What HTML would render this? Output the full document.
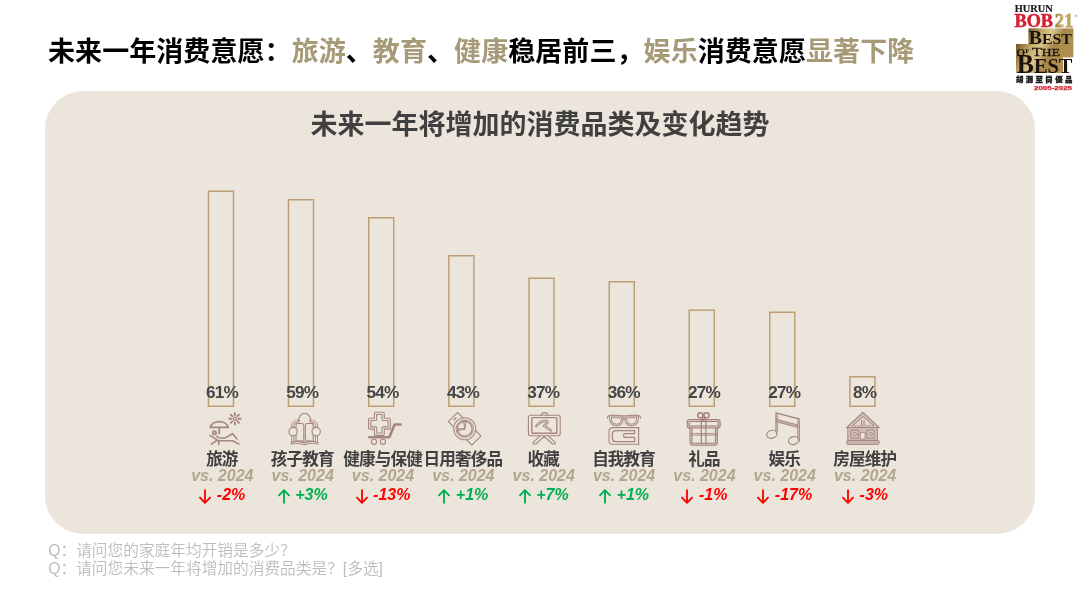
<!DOCTYPE html>
<html lang="zh-CN">
<head>
<meta charset="utf-8">
<title>未来一年消费意愿</title>
<style>
html,body{margin:0;padding:0;background:#fff;}
body{width:1080px;height:608px;position:relative;overflow:hidden;font-family:"Liberation Sans","Noto Sans CJK SC",sans-serif;}
.abs{position:absolute;}
#title{left:48px;top:32px;font-size:27px;font-weight:bold;color:#000;white-space:nowrap;line-height:40px;letter-spacing:0.07px;}
#title .g{color:#A69A78;}
#panel{left:45px;top:91px;width:990px;height:443px;border-radius:38px;background:#ECE5DB;}
#ctitle{left:0;width:1080px;top:105px;text-align:center;font-size:27px;font-weight:bold;color:#404040;line-height:40px;white-space:nowrap;}
.pct{width:60px;text-align:center;font-size:17.2px;font-weight:bold;letter-spacing:-0.8px;text-indent:-0.8px;color:#454545;line-height:20px;margin-top:-1.6px;}
.cat{width:90px;text-align:center;font-size:16.6px;font-weight:bold;color:#404040;line-height:20px;letter-spacing:-0.85px;text-indent:-0.85px;white-space:nowrap;}
.vs{width:90px;text-align:center;font-size:16px;font-weight:bold;font-style:italic;color:#B2A690;line-height:20px;white-space:nowrap;}
.chg{width:90px;text-align:center;font-size:16px;font-style:italic;font-weight:bold;line-height:20px;white-space:nowrap;}
.chg svg{display:inline-block;vertical-align:top;margin:3.6px 5.5px 0 0;}
.up{color:#00B050;}
.dn{color:#FF0000;}
#q{left:48.3px;top:542px;font-size:15.7px;font-weight:350;color:#BDBDBD;line-height:18.4px;white-space:nowrap;}
</style>
</head>
<body>
<div id="title" class="abs">未来一年消费意愿：<span class="g">旅游</span>、<span class="g">教育</span>、<span class="g">健康</span>稳居前三，<span class="g">娱乐</span>消费意愿<span class="g">显著下降</span></div>

<!-- logo -->
<svg class="abs" style="left:1005px;top:0" width="75" height="95" viewBox="0 0 75 95">
  <defs>
    <linearGradient id="gold" x1="0" y1="0" x2="1" y2="0.3">
      <stop offset="0" stop-color="#6f5324"/>
      <stop offset="0.3" stop-color="#c3a867"/>
      <stop offset="0.5" stop-color="#dcc78f"/>
      <stop offset="0.75" stop-color="#a6884a"/>
      <stop offset="1" stop-color="#b09050"/>
    </linearGradient>
    <linearGradient id="gold2" x1="0" y1="0" x2="1" y2="0">
      <stop offset="0" stop-color="#9c7c3a"/>
      <stop offset="0.5" stop-color="#d8c27f"/>
      <stop offset="1" stop-color="#a88a45"/>
    </linearGradient>
  </defs>
  <text x="9.7" y="12" font-family="Liberation Serif,serif" font-weight="bold" font-size="9.6" fill="#1a1a1a" stroke="#1a1a1a" stroke-width="0.2" textLength="38" lengthAdjust="spacingAndGlyphs">HURUN</text>
  <text x="9.5" y="27" font-family="Liberation Serif,serif" font-weight="bold" font-size="18" fill="#D42030" stroke="#D42030" stroke-width="0.5" textLength="38.5" lengthAdjust="spacingAndGlyphs">BOB</text>
  <text x="50" y="27" font-family="Liberation Serif,serif" font-weight="bold" font-size="18" fill="url(#gold2)" stroke="url(#gold2)" stroke-width="0.9" textLength="18" lengthAdjust="spacingAndGlyphs">21</text>
  <text x="69.5" y="17" font-family="Liberation Serif,serif" font-weight="bold" font-size="4" fill="#b89a52">st</text>
  <rect x="23.4" y="28.4" width="45" height="29" fill="url(#gold)"/>
  <rect x="11" y="44" width="47" height="29" fill="url(#gold)"/>
  <text x="23.8" y="43.6" font-family="Liberation Serif,serif" font-weight="bold" font-size="19.5" fill="#1c120c" textLength="43" lengthAdjust="spacingAndGlyphs">B<tspan font-size="15.5">EST</tspan></text>
  <text x="11.5" y="55.8" font-family="Liberation Serif,serif" font-weight="bold" font-size="11" fill="#1c120c" textLength="13" lengthAdjust="spacingAndGlyphs">O<tspan font-size="7" dy="-2.5">F</tspan></text>
  <text x="27" y="55.8" font-family="Liberation Serif,serif" font-size="12.5" fill="#1c120c" stroke="#1c120c" stroke-width="0.3" textLength="28" lengthAdjust="spacingAndGlyphs">T<tspan font-size="10.5">HE</tspan></text>
  <text x="11.8" y="72.6" font-family="Liberation Serif,serif" font-weight="bold" font-size="27" fill="#1c120c" textLength="55.6" lengthAdjust="spacingAndGlyphs">B<tspan font-size="21.5">EST</tspan></text>
  <text x="10.9" y="82.2" font-family="Noto Sans CJK TC,sans-serif" font-weight="900" font-size="7.4" fill="#1a1a1a" stroke="#1a1a1a" stroke-width="0.35" textLength="56.5" lengthAdjust="spacing">胡潤至尚優品</text>
  <text x="29" y="89.5" font-family="Liberation Sans,sans-serif" font-weight="bold" font-size="5.8" fill="#D42030" stroke="#D42030" stroke-width="0.25" textLength="38" lengthAdjust="spacingAndGlyphs">2005-2025</text>
</svg>

<div id="panel" class="abs"></div>
<div id="ctitle" class="abs">未来一年将增加的消费品类及变化趋势</div>

<svg class="abs" style="left:0;top:0" width="1080" height="608" viewBox="0 0 1080 608">
  <g fill="none" stroke="#BCA073" stroke-width="1.5">
    <rect x="208.5" y="191.25" width="25" height="215"/>
    <rect x="288.5" y="199.75" width="25" height="206.5"/>
    <rect x="368.75" y="217.75" width="25" height="188.5"/>
    <rect x="448.85" y="255.75" width="25" height="150.5"/>
    <rect x="529" y="278.25" width="25" height="128"/>
    <rect x="609.25" y="281.75" width="25" height="124.5"/>
    <rect x="689.25" y="310.15" width="25" height="96.1"/>
    <rect x="769.75" y="312.25" width="25" height="94"/>
    <rect x="849.95" y="376.75" width="25" height="29.5"/>
  </g>
  <g id="icons" fill="none" stroke="#A5867F" stroke-width="1.1" stroke-linecap="round" stroke-linejoin="round">
    <!-- 1 travel -->
    <g>
      <circle cx="234.9" cy="418.75" r="1.7" stroke-width="1.3"/>
      <g stroke-width="1.8" transform="translate(234.9 418.75)">
        <path d="M0 -3.6V-5.8M0 3.6V5.8M-3.6 0H-5.8M3.6 0H5.8M2.55 2.55L4.1 4.1M-2.55 -2.55L-4.1 -4.1M2.55 -2.55L4.1 -4.1M-2.55 2.55L-4.1 4.1"/>
      </g>
      <path d="M210.2 427.4A9.2 7.4 0 0 1 228.2 427.4Z" stroke-width="1.7"/>
      <path d="M219.2 428V433.6" stroke-width="1.8"/>
      <circle cx="214.4" cy="432.8" r="1.9" fill="#C4AEA8" stroke-width="1.3"/>
      <path d="M210 435.4L217.6 440.1" stroke-width="1.6"/>
      <path d="M216.6 436.3Q221.5 439.6 226.2 437.4L232.6 433.7L237.1 439" stroke-width="1.6"/>
      <path d="M217.6 440.7H232.6L238.9 444.1" stroke-width="1.6"/>
      <path d="M211.4 444.2L216.4 440.6M218.8 441V444.3" stroke-width="1.6"/>
    </g>
    <!-- 2 child education -->
    <g>
      <path d="M298.4 420.9C294.6 421.3 292.8 422.6 292.8 426.3V442.6M310.8 420.9C314.6 421.3 316.4 422.6 316.4 426.3V442.6" stroke-width="3.0"/>
      <path d="M298.4 420.9C294.6 421.3 292.8 422.6 292.8 426.3V442.6M310.8 420.9C314.6 421.3 316.4 422.6 316.4 426.3V442.6" stroke="#ECE5DB" stroke-width="1.2"/>
      <path d="M298.4 420.9A6.2 7.6 0 0 1 310.8 420.9"/>
      <path d="M303.8 441.2V425.3Q303.8 423.5 302 423.5H297.8Q296 423.5 296 425.3V441.4Q299.9 440.2 303.8 441.2Z"/>
      <path d="M305.4 441.2V425.3Q305.4 423.5 307.2 423.5H311.4Q313.2 423.5 313.2 425.3V441.4Q309.3 440.2 305.4 441.2Z"/>
      <path d="M292 443.2Q298.3 440.9 304.6 443.9Q310.9 440.9 317.2 443.2" stroke-width="3"/>
      <path d="M292 443.2Q298.3 440.9 304.6 443.9Q310.9 440.9 317.2 443.2" stroke="#ECE5DB" stroke-width="0.9"/>
      <circle cx="293.1" cy="431.6" r="4.2" fill="#ECE5DB"/>
      <circle cx="316.2" cy="431.6" r="4.2" fill="#ECE5DB"/>
    </g>
    <!-- 3 health -->
    <g>
      <path d="M375.6 413.4H383.1V419.4H389.2V428H383.1V434.2H375.6V428H369.7V419.4H375.6Z" stroke-width="3.4"/>
      <path d="M375.6 413.4H383.1V419.4H389.2V428H383.1V434.2H375.6V428H369.7V419.4H375.6Z" stroke="#ECE5DB" stroke-width="1.2"/>
      <path d="M369.4 437.3H389.3L394.6 424.5H400.6" stroke-width="2.6"/>
      <circle cx="374" cy="441.8" r="2.6"/>
      <circle cx="382.9" cy="441.8" r="2.6"/>
    </g>
    <!-- 4 watch -->
    <g transform="translate(464.7 428.75) rotate(45)">
      <path d="M-16.6 -6.4H16.6V6.4H-16.6Z"/>
      <path d="M-13.9 -1.2V1.2" stroke-width="1.6"/>
      <circle r="11" fill="#ECE5DB" stroke-width="1"/>
      <circle r="8.7" stroke-width="0.9"/>
      <circle r="7.4" stroke-width="1.1"/>
    </g>
    <path d="M464.7 428.9L463.6 421L465.6 421Z M464.7 428.9L457.8 428.6L458 430.4Z" stroke-width="1"/>
    <!-- 5 easel -->
    <g>
      <path d="M541 415.2A3.7 3.3 0 0 1 548.2 415.2"/>
      <rect x="528.4" y="415.2" width="31.8" height="20.6" rx="2.4"/>
      <rect x="531.8" y="417.6" width="25" height="15.7" rx="0.8" stroke-width="1.4"/>
      <path d="M536.3 426Q541 420.4 546.6 421Q548.8 421.8 546.2 423.8L543.9 425.9Q546.6 427 551.2 430.6" stroke-width="2.4"/>
      <path d="M536.3 426Q541 420.4 546.6 421Q548.8 421.8 546.2 423.8L543.9 425.9Q546.6 427 551.2 430.6" stroke="#ECE5DB" stroke-width="0.7"/>
      <path d="M539.6 436.3L533.2 442.4Q532.4 444 534.4 444H535.8L544.2 436.3L552.6 444H554Q556 444 555.2 442.4L548.8 436.3"/>
    </g>
    <!-- 6 self education -->
    <g>
      <path d="M607.5 418.3Q607.2 415.6 611 415.3L618 415.2Q624.3 416.7 630 415.2L637 415.3Q640.8 415.6 640.5 418.3"/>
      <path d="M610.4 416.9H622Q623 424.9 616.6 425Q610 425 610.4 416.9ZM626 416.9H637.6Q638 425 631.4 425Q625 424.9 626 416.9Z" stroke-width="2.7"/>
      <path d="M610.4 416.9H622Q623 424.9 616.6 425Q610 425 610.4 416.9ZM626 416.9H637.6Q638 425 631.4 425Q625 424.9 626 416.9Z" stroke="#ECE5DB" stroke-width="0.8"/>
      <path d="M622.2 417.2Q624.1 421.5 626 417.2"/>
      <path d="M638.6 427.6H613Q609 427.6 609 431.6V440.4Q609 444.3 613 444.3H638.6"/>
      <path d="M634.6 430.6H615.6Q612.4 430.6 612.4 433.6V438.6Q612.4 441.6 615.6 441.6H634.6V437.4H624.6Q623.6 437.4 623.6 435.5Q623.6 433.6 624.6 433.6H634.6Z" stroke-width="1.3"/>
      <path d="M638.6 427.6V444.3" stroke-width="1.2"/>
    </g>
    <!-- 7 gift -->
    <g stroke="#9C7C75">
      <path d="M691 427V442.6Q691 444.2 692.6 444.2H714.8Q716.4 444.2 716.4 442.6V427" stroke-width="3"/>
      <path d="M691 427V442.6Q691 444.2 692.6 444.2H714.8Q716.4 444.2 716.4 442.6V427" stroke="#ECE5DB" stroke-width="0.8"/>
      <path d="M691.6 434.4H715.8" stroke-width="2.4"/>
      <path d="M692.2 434.4H715.2" stroke="#ECE5DB" stroke-width="0.7"/>
      <rect x="688.2" y="420.5" width="31" height="6.5" rx="1.6" fill="#ECE5DB" stroke-width="3"/>
      <rect x="688.2" y="420.5" width="31" height="6.5" rx="1.6" stroke="#ECE5DB" stroke-width="0.8"/>
      <path d="M701.3 419.6V443.8M705.9 419.6V443.8" stroke-width="1.1"/>
      <circle cx="700.3" cy="415.3" r="2.6" stroke-width="1.4"/>
      <circle cx="706.5" cy="415.3" r="2.6" stroke-width="1.4"/>
      <circle cx="703.4" cy="419" r="1.2" stroke-width="1.1"/>
    </g>
    <!-- 8 music -->
    <g>
      <path d="M776 432.6V412.8L799.2 419V441" stroke-width="1.3"/>
      <path d="M777.6 414.6V432M797.6 420.6V440" stroke-width="0.8"/>
      <path d="M776.6 419.4L797.8 425V427.4L776.6 421.8Z" fill="#C8B3AC" stroke-width="1"/>
      <ellipse cx="771.8" cy="434.3" rx="5.1" ry="3.9" transform="rotate(-14 771.8 434.3)" fill="#ECE5DB" stroke-width="1.2"/>
      <ellipse cx="793.6" cy="440.6" rx="5.1" ry="3.9" transform="rotate(-14 793.6 440.6)" fill="#ECE5DB" stroke-width="1.2"/>
    </g>
    <!-- 9 house -->
    <g>
      <path d="M862.9 412.4L846.6 427.6H879.2Z" fill="#D0BDB6" stroke-width="1.2"/>
      <path d="M862.9 416.8L852.2 426H873.6Z" fill="#E3D8D0" stroke-width="1"/>
      <rect x="848.2" y="427.6" width="29.2" height="12.8" fill="#D0BDB6" stroke-width="1"/>
      <rect x="846.6" y="440.4" width="32.6" height="4" rx="1.6" fill="#C9B4AD" stroke-width="1"/>
      <rect x="851.4" y="430.2" width="7" height="7.8" fill="#D6C6BE" stroke-width="1"/>
      <rect x="867.2" y="430.2" width="7" height="7.8" fill="#D6C6BE" stroke-width="1"/>
      <rect x="860.8" y="432.6" width="4.2" height="6.4" fill="#EDE5DC" stroke-width="0.8"/>
      <circle cx="854.9" cy="434.1" r="1.7" stroke-width="0.8"/>
      <circle cx="870.7" cy="434.1" r="1.7" stroke-width="0.8"/>
      <path d="M849.4 426.4H876.4" stroke="#EDE5DC" stroke-width="0.6" stroke-dasharray="1.5 2"/>
      <path d="M861.6 420.6V424.6M864 420.6V424.6" stroke-width="1.2"/>
    </g>
  </g>
</svg>

<div class="abs pct" style="left:192.30px;top:383.5px">61%</div>
<div class="abs pct" style="left:272.65px;top:383.5px">59%</div>
<div class="abs pct" style="left:353.00px;top:383.5px">54%</div>
<div class="abs pct" style="left:433.35px;top:383.5px">43%</div>
<div class="abs pct" style="left:513.70px;top:383.5px">37%</div>
<div class="abs pct" style="left:594.05px;top:383.5px">36%</div>
<div class="abs pct" style="left:674.40px;top:383.5px">27%</div>
<div class="abs pct" style="left:754.75px;top:383.5px">27%</div>
<div class="abs pct" style="left:835.10px;top:383.5px">8%</div>

<div class="abs cat" style="left:177.30px;top:449.5px">旅游</div>
<div class="abs cat" style="left:257.65px;top:449.5px">孩子教育</div>
<div class="abs cat" style="left:338.00px;top:449.5px">健康与保健</div>
<div class="abs cat" style="left:418.35px;top:449.5px">日用奢侈品</div>
<div class="abs cat" style="left:498.70px;top:449.5px">收藏</div>
<div class="abs cat" style="left:579.05px;top:449.5px">自我教育</div>
<div class="abs cat" style="left:659.40px;top:449.5px">礼品</div>
<div class="abs cat" style="left:739.75px;top:449.5px">娱乐</div>
<div class="abs cat" style="left:820.10px;top:449.5px">房屋维护</div>

<div class="abs vs" style="left:177.30px;top:466px">vs. 2024</div>
<div class="abs vs" style="left:257.65px;top:466px">vs. 2024</div>
<div class="abs vs" style="left:338.00px;top:466px">vs. 2024</div>
<div class="abs vs" style="left:418.35px;top:466px">vs. 2024</div>
<div class="abs vs" style="left:498.70px;top:466px">vs. 2024</div>
<div class="abs vs" style="left:579.05px;top:466px">vs. 2024</div>
<div class="abs vs" style="left:659.40px;top:466px">vs. 2024</div>
<div class="abs vs" style="left:739.75px;top:466px">vs. 2024</div>
<div class="abs vs" style="left:820.10px;top:466px">vs. 2024</div>

<div class="abs chg dn" style="left:177.30px;top:485px"><svg width="12" height="15" viewBox="0 0 12 15"><path d="M6 1.2V13.6M1 8.6L6 13.8L11 8.6" fill="none" stroke="#FF0000" stroke-width="1.85" stroke-linecap="round" stroke-linejoin="round"/></svg>-2%</div>
<div class="abs chg up" style="left:257.65px;top:485px"><svg width="12" height="15" viewBox="0 0 12 15"><path d="M6 13.8V1.4M1 6.4L6 1.2L11 6.4" fill="none" stroke="#00B050" stroke-width="1.85" stroke-linecap="round" stroke-linejoin="round"/></svg>+3%</div>
<div class="abs chg dn" style="left:338.00px;top:485px"><svg width="12" height="15" viewBox="0 0 12 15"><path d="M6 1.2V13.6M1 8.6L6 13.8L11 8.6" fill="none" stroke="#FF0000" stroke-width="1.85" stroke-linecap="round" stroke-linejoin="round"/></svg>-13%</div>
<div class="abs chg up" style="left:418.35px;top:485px"><svg width="12" height="15" viewBox="0 0 12 15"><path d="M6 13.8V1.4M1 6.4L6 1.2L11 6.4" fill="none" stroke="#00B050" stroke-width="1.85" stroke-linecap="round" stroke-linejoin="round"/></svg>+1%</div>
<div class="abs chg up" style="left:498.70px;top:485px"><svg width="12" height="15" viewBox="0 0 12 15"><path d="M6 13.8V1.4M1 6.4L6 1.2L11 6.4" fill="none" stroke="#00B050" stroke-width="1.85" stroke-linecap="round" stroke-linejoin="round"/></svg>+7%</div>
<div class="abs chg up" style="left:579.05px;top:485px"><svg width="12" height="15" viewBox="0 0 12 15"><path d="M6 13.8V1.4M1 6.4L6 1.2L11 6.4" fill="none" stroke="#00B050" stroke-width="1.85" stroke-linecap="round" stroke-linejoin="round"/></svg>+1%</div>
<div class="abs chg dn" style="left:659.40px;top:485px"><svg width="12" height="15" viewBox="0 0 12 15"><path d="M6 1.2V13.6M1 8.6L6 13.8L11 8.6" fill="none" stroke="#FF0000" stroke-width="1.85" stroke-linecap="round" stroke-linejoin="round"/></svg>-1%</div>
<div class="abs chg dn" style="left:739.75px;top:485px"><svg width="12" height="15" viewBox="0 0 12 15"><path d="M6 1.2V13.6M1 8.6L6 13.8L11 8.6" fill="none" stroke="#FF0000" stroke-width="1.85" stroke-linecap="round" stroke-linejoin="round"/></svg>-17%</div>
<div class="abs chg dn" style="left:820.10px;top:485px"><svg width="12" height="15" viewBox="0 0 12 15"><path d="M6 1.2V13.6M1 8.6L6 13.8L11 8.6" fill="none" stroke="#FF0000" stroke-width="1.85" stroke-linecap="round" stroke-linejoin="round"/></svg>-3%</div>

<div id="q" class="abs">Q：请问您的家庭年均开销是多少？<br>Q：请问您未来一年将增加的消费品类是？[多选]</div>
</body>
</html>
